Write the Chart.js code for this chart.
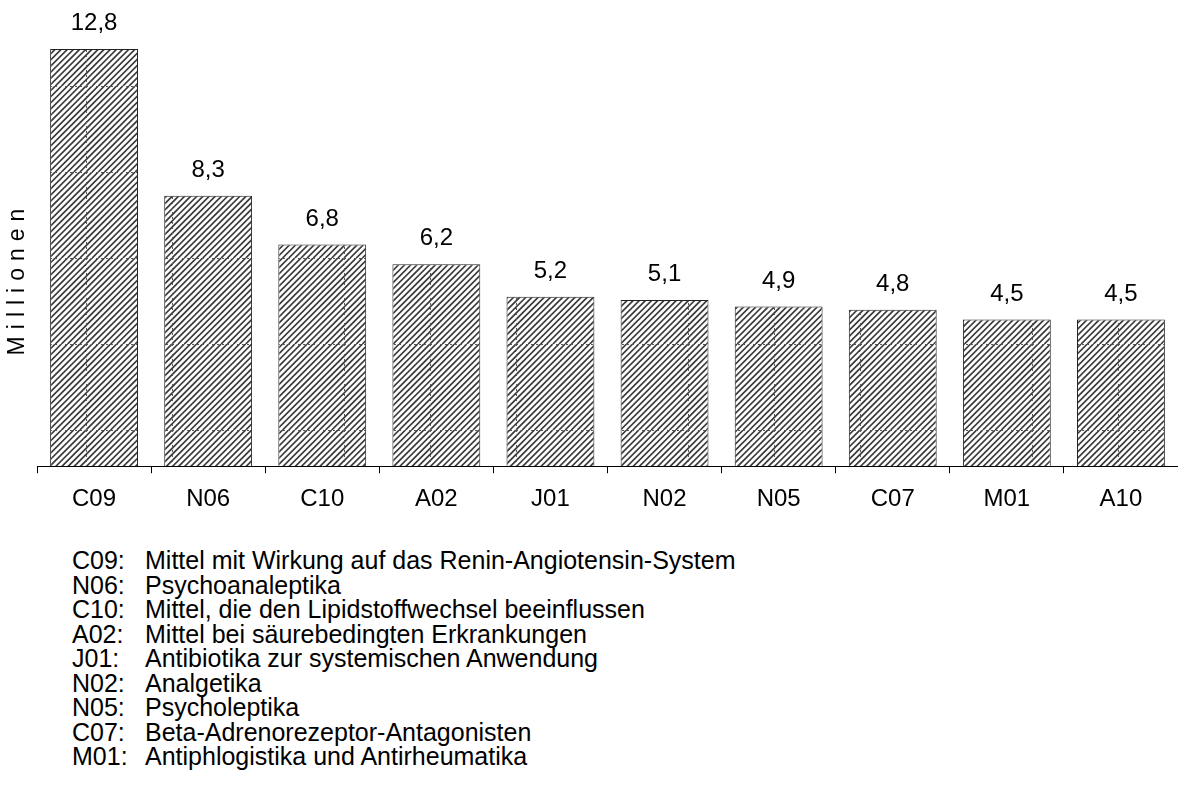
<!DOCTYPE html>
<html>
<head>
<meta charset="utf-8">
<script src="https://cdn.jsdelivr.net/npm/chart.js@4.4.0/dist/chart.umd.min.js"></script>
<style>
  html, body { margin: 0; padding: 0; background: #fff; }
  #wrap { position: relative; width: 1178px; height: 796px; overflow: hidden; }
  #chartBox { position: absolute; left: 0; top: 0; width: 1178px; height: 530px; }
  #legend { position: absolute; left: 0; top: 0; font-family: "Liberation Sans", Arial, sans-serif; font-size: 25px; line-height: 25px; color: #000; }
  .lg { position: absolute; white-space: nowrap; }
</style>
</head>
<body>
<div id="wrap">
  <div id="chartBox"><canvas id="c"></canvas></div>
  <div id="legend"></div>
</div>
<script>
const categories = ["C09", "N06", "C10", "A02", "J01", "N02", "N05", "C07", "M01", "A10"];
const values = [12.8, 8.3, 6.8, 6.2, 5.2, 5.1, 4.9, 4.8, 4.5, 4.5];
const valueLabels = ["12,8", "8,3", "6,8", "6,2", "5,2", "5,1", "4,9", "4,8", "4,5", "4,5"];
const axisTitle = "Millionen";
const legendCodes = ["C09:", "N06:", "C10:", "A02:", "J01:", "N02:", "N05:", "C07:", "M01:"];
const legendTexts = [
  "Mittel mit Wirkung auf das Renin-Angiotensin-System",
  "Psychoanaleptika",
  "Mittel, die den Lipidstoffwechsel beeinflussen",
  "Mittel bei säurebedingten Erkrankungen",
  "Antibiotika zur systemischen Anwendung",
  "Analgetika",
  "Psycholeptika",
  "Beta-Adrenorezeptor-Antagonisten",
  "Antiphlogistika und Antirheumatika"
];

// legend text (HTML)
const lg = document.getElementById('legend');
legendCodes.forEach((code, i) => {
  const top = 548 + i * 24.5;
  const a = document.createElement('div');
  a.className = 'lg'; a.style.left = '72px'; a.style.top = top + 'px'; a.textContent = code;
  const b = document.createElement('div');
  b.className = 'lg'; b.style.left = '145px'; b.style.top = top + 'px'; b.textContent = legendTexts[i];
  lg.appendChild(a); lg.appendChild(b);
});

// hatch pattern tile (86px with faint seams)
function makePattern(ctx) {
  const T = 86, n = 14, p = T / n;
  const t = document.createElement('canvas');
  t.width = T; t.height = T;
  const g = t.getContext('2d');
  g.fillStyle = '#fff'; g.fillRect(0, 0, T, T);
  g.strokeStyle = '#3a3a3a'; g.lineWidth = 1.7;
  for (let k = -2; k <= 2 * n + 2; k++) {
    const x0 = k * p;
    g.beginPath();
    g.moveTo(x0 - T, T);
    g.lineTo(x0, 0);
    g.stroke();
  }
  g.strokeStyle = '#555'; g.lineWidth = 1; g.setLineDash([2, 3]);
  g.beginPath(); g.moveTo(0, 0.5); g.lineTo(T, 0.5); g.stroke();
  g.beginPath(); g.moveTo(0.5, 0); g.lineTo(0.5, T); g.stroke();
  return ctx.createPattern(t, 'repeat');
}

const canvas = document.getElementById('c');
const ctx = canvas.getContext('2d');
const hatch = makePattern(ctx);

const valueLabelPlugin = {
  id: 'valueLabels',
  afterDatasetsDraw(chart) {
    const c = chart.ctx;
    const meta = chart.getDatasetMeta(0);
    c.save();
    c.font = '24px "Liberation Sans", Arial, sans-serif';
    c.fillStyle = '#000';
    c.textAlign = 'center';
    c.textBaseline = 'alphabetic';
    meta.data.forEach((bar, i) => {
      c.fillText(valueLabels[i], bar.x, bar.y - 19);
    });
    c.restore();
  }
};

const yTitlePlugin = {
  id: 'yTitle',
  afterDraw(chart) {
    const c = chart.ctx;
    c.save();
    c.font = '23px "Liberation Sans", Arial, sans-serif';
    c.fillStyle = '#000';
    const ls = 7;
    if ('letterSpacing' in c) c.letterSpacing = ls + 'px';
    c.textAlign = 'center';
    c.textBaseline = 'middle';
    c.translate(18, 282);
    c.rotate(-Math.PI / 2);
    c.fillText(axisTitle, ls / 2, 0);
    c.restore();
  }
};

new Chart(canvas, {
  type: 'bar',
  data: {
    labels: categories,
    datasets: [{
      data: values,
      backgroundColor: hatch,
      borderColor: '#222',
      borderWidth: 1,
      categoryPercentage: 0.77,
      barPercentage: 1.0
    }]
  },
  options: {
    responsive: true,
    maintainAspectRatio: false,
    animation: false,
    layout: { padding: { left: 37, right: -3, top: 10, bottom: 4 } },
    plugins: { legend: { display: false }, tooltip: { enabled: false } },
    scales: {
      x: {
        offset: true,
        grid: { display: true, drawOnChartArea: false, drawTicks: true, tickLength: 7, color: '#000', offset: true },
        border: { display: true, color: '#000', width: 1 },
        ticks: { color: '#000', font: { family: '"Liberation Sans", Arial, sans-serif', size: 24 }, padding: 12 }
      },
      y: {
        display: false,
        min: 0,
        max: 14
      }
    }
  },
  plugins: [valueLabelPlugin, yTitlePlugin]
});
</script>
</body>
</html>
